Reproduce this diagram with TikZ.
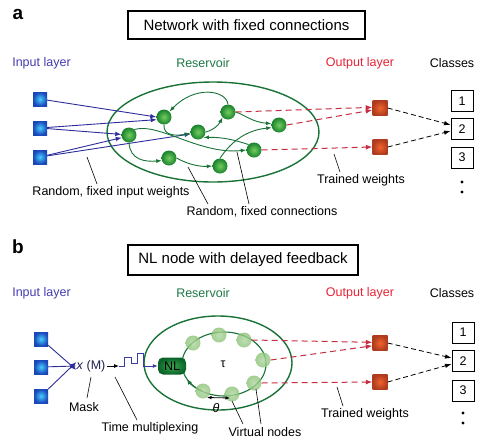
\documentclass[tikz,border=0pt]{standalone}
\usepackage{fontspec}
\setmainfont{Liberation Sans}
\usetikzlibrary{arrows.meta,shapes.geometric,calc,shadows}
\definecolor{inblue}{RGB}{45,45,155}
\definecolor{intext}{RGB}{70,60,175}
\definecolor{resgreen}{RGB}{25,115,55}
\definecolor{restext}{RGB}{30,120,70}
\definecolor{outred}{RGB}{200,45,65}
\definecolor{outtext}{RGB}{232,35,55}
\definecolor{sqin}{RGB}{70,205,255}
\definecolor{sqout}{RGB}{25,70,185}
\definecolor{balin}{RGB}{115,205,95}
\definecolor{balout}{RGB}{25,130,45}
\definecolor{orin}{RGB}{240,100,45}
\definecolor{orout}{RGB}{175,60,30}
\definecolor{vgreen}{RGB}{140,195,120}
\definecolor{vgreenin}{RGB}{175,215,160}
\definecolor{nlin}{RGB}{60,165,80}
\definecolor{nlout}{RGB}{10,100,40}
\definecolor{wave}{RGB}{60,60,165}
\definecolor{xmcol}{RGB}{30,30,80}
\tikzset{
  lbl/.style={font=\fontsize{12.5}{14}\selectfont, inner sep=0pt},
  ttl/.style={draw=black, fill=white, line width=1.2pt, font=\fontsize{15}{17}\selectfont, inner sep=0pt,
    drop shadow={shadow xshift=1.2pt, shadow yshift=-1.2pt, fill=black, opacity=1}},
  panel/.style={font=\fontsize{19}{20}\selectfont\bfseries, inner sep=0pt},
  insq/.style={rectangle, minimum size=14pt, inner sep=0pt, shading=radial, inner color=sqin, outer color=sqout},
  outsq/.style={rectangle, minimum size=15pt, inner sep=0pt, shading=radial, inner color=orin, outer color=orout},
  ball/.style={circle, minimum size=15pt, inner sep=0pt, shading=radial, inner color=balin, outer color=balout},
  vnode/.style={circle, minimum size=15pt, inner sep=0pt, shading=radial, inner color=vgreenin, outer color=vgreen, fill opacity=0.8},
  clsbox/.style={draw=black, line width=0.9pt, minimum width=22pt, minimum height=21pt, inner sep=0pt, font=\fontsize{12.5}{14}\selectfont},
  barr/.style={draw=inblue, line width=0.9pt, -{Latex[length=6pt,width=4.5pt]}},
  garr/.style={draw=resgreen, line width=0.9pt, -{Latex[length=5.5pt,width=4pt]}},
  rarr/.style={draw=outred, line width=1pt, dash pattern=on 6pt off 4pt, -{Latex[length=6.5pt,width=5pt]}},
  karr/.style={draw=black, line width=0.8pt, dash pattern=on 5pt off 3pt, -{Latex[length=6.5pt,width=4.5pt]}},
  pin/.style={draw=black, line width=0.6pt},
  resell/.style={draw=resgreen, line width=1.4pt},
}
\begin{document}
\begin{tikzpicture}[x=1pt,y=-1pt]
\useasboundingbox (0,0) rectangle (491,440);
\fill[white] (0,0) rectangle (491,440);

% ================= panel a =================
\node[panel] (pa) at (18,14) {a};
\node[ttl, minimum width=237pt, minimum height=28pt] (ta) at (246.5,25) {Network with fixed connections};
\node[lbl, text=intext] (hia) at (41.5,63) {Input layer};
\node[lbl, text=restext] (hra) at (203,63) {Reservoir};
\node[lbl, text=outtext] (hoa) at (360,63) {Output layer};
\node[lbl] (hca) at (452,63) {Classes};

\draw[resell] (213,132) ellipse [x radius=106, y radius=50];

\node[insq] (i1) at (40,99) {};
\node[insq] (i2) at (40,128) {};
\node[insq] (i3) at (40,157) {};

\node[ball] (n1) at (164,117) {};
\node[ball] (n2) at (129,135) {};
\node[ball] (n3) at (198,132) {};
\node[ball] (n4) at (228,112) {};
\node[ball] (n5) at (279,125) {};
\node[ball] (n6) at (169,158) {};
\node[ball] (n7) at (220,166) {};
\node[ball] (n8) at (254,150) {};

\draw[barr] (i1) -- (n1.180);
\draw[barr] (i2) -- (n1.200);
\draw[barr] (i2) -- (n2);
\draw[barr] (i3) -- (n2.200);
\draw[barr] (i3) -- (n3.195);

\draw[garr] (n4.north) .. controls (226,90) and (195,85) .. (n1.north east);
\draw[garr] (n1.south) .. controls (163,136) and (176,136) .. (n3.190);
\draw[garr] (n3.east) .. controls (213,130) and (218,126) .. (n4.south west);
\draw[garr] (n4.east) .. controls (245,115) and (252,122) .. (n5.170);
\draw[garr] (n7.north) .. controls (232,140) and (248,130) .. (n5.200);
\draw[garr] (n2.south) .. controls (130,160) and (145,162) .. (n6.200);
\draw[garr] (n6.east) .. controls (185,163) and (198,167) .. (n7.west);
\draw[garr] (n2.north east) .. controls (158,122) and (200,155) .. (n8.west);
\draw[garr] (n8.north west) .. controls (235,140) and (222,137) .. (n3.south east);

\node[outsq] (o1) at (380,108) {};
\node[outsq] (o2) at (380,147) {};
\draw[rarr] (n4.east) -- (o1.175);
\draw[rarr] (n5.east) -- (o1.195);
\draw[rarr] (n8.east) -- (o2.west);

\node[clsbox] (c1) at (462,101) {1};
\node[clsbox] (c2) at (462,129) {2};
\node[clsbox] (c3) at (462,157.5) {3};
\fill (462,182) circle (1.6);
\fill (462,192) circle (1.6);
\draw[karr] (o1.east) -- (c2.160);
\draw[karr] (o2.east) -- (c2.190);

\node[lbl] (lrw) at (111,192) {Random, fixed input weights};
\coordinate (pw1) at (87,157);
\draw[pin] (pw1) -- (97,184);
\node[lbl] (lrc) at (262,212) {Random, fixed connections};
\coordinate (pc1) at (188,167);
\coordinate (pc2) at (237,152);
\draw[pin] (pc1) -- (208,204);
\draw[pin] (pc2) -- (249,204);
\node[lbl] (ltwa) at (361,180) {Trained weights};
\coordinate (pt1) at (334,154);
\draw[pin] (pt1) -- (340,172);

% ================= panel b =================
\node[panel] (pb) at (18,247) {b};
\node[ttl, minimum width=230pt, minimum height=30pt] (tb) at (243,260) {NL node with delayed feedback};
\node[lbl, text=intext] (hib) at (41.5,293) {Input layer};
\node[lbl, text=restext] (hrb) at (203,293) {Reservoir};
\node[lbl, text=outtext] (hob) at (360,293) {Output layer};
\node[lbl] (hcb) at (452,293) {Classes};

\node[insq] (j1) at (41,339) {};
\node[insq] (j2) at (41,367) {};
\node[insq] (j3) at (41,396) {};
\node[lbl, text=xmcol] (xm) at (91,366) {\textit{x} (M)};
\draw[barr] (j1) -- ([yshift=-4pt]xm.west);
\draw[barr] (j2) -- (xm.west);
\draw[barr] (j3) -- ([yshift=4pt]xm.west);

\draw[resell] (218,363) ellipse [x radius=74, y radius=47];
\draw[draw=resgreen, line width=1.1pt] (224,364) ellipse [x radius=42, y radius=32];
\draw[draw=resgreen, line width=1.1pt, -{Latex[length=5.5pt,width=4.5pt]}] ($(224,364)+(120:42 and 32)$) arc [start angle=120, end angle=152, x radius=42, y radius=32];

\node[rectangle, rounded corners=5pt, minimum width=28pt, minimum height=17pt, inner sep=0pt, shading=radial, inner color=nlin, outer color=nlout, font=\fontsize{12.5}{14}\selectfont] (nl) at (172,366) {NL};

\coordinate (wv0) at (107,366);
\coordinate (wv1) at (119,366);
\draw[draw=black, line width=0.8pt, -{Latex[length=5pt,width=4pt]}] (wv0) -- (wv1);
\draw[draw=wave, line width=0.9pt, -{Latex[length=5pt,width=4pt]}] (wv1) -- (124,366) -- (124,357) -- (131,357) -- (131,363) -- (137,363) -- (137,353) -- (143,353) -- (143,366) -- (nl.west);

\node[lbl] (tau) at (223,364) {τ};

\node[vnode] (v1) at (193,343) {};
\node[vnode] (v2) at (219,335) {};
\node[vnode] (v3) at (244,340) {};
\node[vnode] (v4) at (263,360) {};
\node[vnode] (v5) at (254,383) {};
\node[vnode] (v6) at (232,394) {};
\node[vnode] (v7) at (203,391) {};

\coordinate (th1) at (207,397.5);
\coordinate (th2) at (230,398);
\draw[draw=black, line width=0.8pt, {Latex[length=4.5pt,width=3.5pt]}-{Latex[length=4.5pt,width=3.5pt]}] (th1) -- (th2);
\node[lbl] (theta) at (216,408) {\textit{θ}};

\node[outsq] (p1) at (380,343) {};
\node[outsq] (p2) at (380,382) {};
\draw[rarr] (v3.east) -- (p1.175);
\draw[rarr] (v4.east) -- (p1.200);
\draw[rarr] (v5.east) -- (p2.west);

\node[clsbox] (d1) at (463,332.5) {1};
\node[clsbox] (d2) at (463,361) {2};
\node[clsbox] (d3) at (463,390.5) {3};
\fill (463,413) circle (1.6);
\fill (463,423) circle (1.6);
\draw[karr] (p1.east) -- (d2.165);
\draw[karr] (p2.east) -- (d2.195);

\node[lbl] (lmask) at (84,407) {Mask};
\coordinate (pm1) at (91,377);
\draw[pin] (pm1) -- (87,398);
\node[lbl] (ltm) at (150,428) {Time multiplexing};
\coordinate (ptm) at (115,377);
\draw[pin] (ptm) -- (137,420);
\node[lbl] (lvn) at (265,432) {Virtual nodes};
\coordinate (pv1) at (232,401);
\coordinate (pv2) at (256,389);
\draw[pin] (pv1) -- (243,424);
\draw[pin] (pv2) -- (261,424);
\node[lbl] (ltwb) at (365,414) {Trained weights};
\coordinate (pt2) at (337,387);
\draw[pin] (pt2) -- (343,406);
\end{tikzpicture}
\end{document}
